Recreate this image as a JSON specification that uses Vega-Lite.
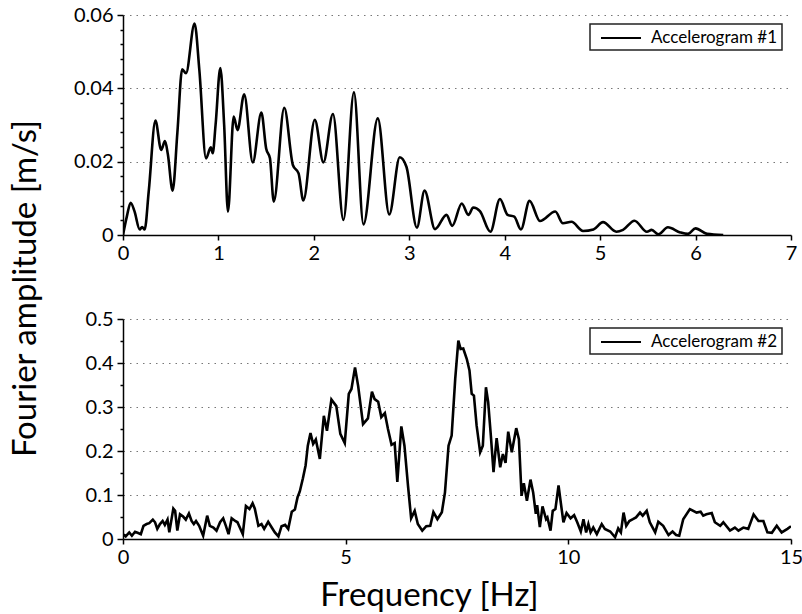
{
  "$schema": "https://vega.github.io/schema/vega-lite/v6.json",
  "background": "white",
  "padding": {"left": 10, "top": 5, "right": 0, "bottom": 5},
  "config": {
    "font": "Lato",
    "view": {"stroke": null},
    "axis": {
      "domainColor": "black", "domainWidth": 1.5, "tickColor": "black", "tickWidth": 1.5,
      "labelFontSize": 20, "labelColor": "black", "labelFont": "Lato",
      "titleFont": "Lato", "titleFontWeight": "normal", "titleColor": "black",
      "gridColor": "#777", "gridDash": [1.5, 5], "gridWidth": 1,
      "labelOverlap": false, "labelBound": false, "labelFlush": false
    },
    "legend": {
      "strokeColor": "#222", "strokeWidth": 1.5, "fillColor": "white", "padding": 4,
      "labelFontSize": 17, "labelFont": "Lato", "labelColor": "black",
      "symbolType": "M-0.333,0H4.111", "symbolSize": 324, "symbolStrokeWidth": 2, "symbolStrokeColor": "black",
      "labelOffset": 37, "cornerRadius": 0
    }
  },
  "title": {"text": "Fourier amplitude [m/s]", "orient": "left", "anchor": "middle", "fontSize": 33, "fontWeight": "normal", "font": "Lato", "offset": 30, "dx": 20, "color": "black"},
  "spacing": 84,
  "bounds": "flush",
  "datasets": {
    "acc1": [
      {"f":0,"a":0},{"f":0.04,"a":0.005},{"f":0.08,"a":0.0088},{"f":0.12,"a":0.0065},{"f":0.175,"a":0.0015},{"f":0.2,"a":0.0022},{"f":0.227,"a":0.0015},{"f":0.27,"a":0.012},{"f":0.34,"a":0.0312},{"f":0.4,"a":0.0232},{"f":0.44,"a":0.0256},{"f":0.47,"a":0.022},{"f":0.52,"a":0.0121},{"f":0.57,"a":0.028},{"f":0.62,"a":0.0452},{"f":0.66,"a":0.0441},{"f":0.75,"a":0.0577},{"f":0.8,"a":0.045},{"f":0.87,"a":0.0209},{"f":0.92,"a":0.0239},{"f":0.94,"a":0.0223},{"f":0.97,"a":0.03},{"f":1.02,"a":0.0455},{"f":1.06,"a":0.03},{"f":1.1,"a":0.0064},{"f":1.16,"a":0.0323},{"f":1.2,"a":0.0286},{"f":1.27,"a":0.0384},{"f":1.36,"a":0.0198},{"f":1.45,"a":0.0334},{"f":1.5,"a":0.0236},{"f":1.54,"a":0.0209},{"f":1.58,"a":0.0091},{"f":1.69,"a":0.0347},{"f":1.78,"a":0.0191},{"f":1.84,"a":0.0168},{"f":1.89,"a":0.0094},{"f":2.01,"a":0.0314},{"f":2.1,"a":0.0198},{"f":2.2,"a":0.033},{"f":2.31,"a":0.0041},{"f":2.42,"a":0.0389},{"f":2.52,"a":0.0029},{"f":2.67,"a":0.0318},{"f":2.79,"a":0.0056},{"f":2.9,"a":0.0212},{"f":2.97,"a":0.0186},{"f":3.08,"a":0.002},{"f":3.16,"a":0.0121},{"f":3.27,"a":0.0016},{"f":3.39,"a":0.0055},{"f":3.45,"a":0.0025},{"f":3.55,"a":0.0086},{"f":3.62,"a":0.0055},{"f":3.67,"a":0.0075},{"f":3.74,"a":0.0065},{"f":3.85,"a":0.0009},{"f":3.95,"a":0.0098},{"f":4.03,"a":0.0055},{"f":4.1,"a":0.005},{"f":4.17,"a":0.0015},{"f":4.26,"a":0.0093},{"f":4.37,"a":0.0038},{"f":4.53,"a":0.0064},{"f":4.61,"a":0.0032},{"f":4.7,"a":0.0036},{"f":4.82,"a":0.0011},{"f":4.93,"a":0.0015},{"f":5.03,"a":0.0035},{"f":5.17,"a":0.0009},{"f":5.24,"a":0.0014},{"f":5.36,"a":0.0039},{"f":5.49,"a":0.0009},{"f":5.54,"a":0.0014},{"f":5.61,"a":0.0002},{"f":5.71,"a":0.0021},{"f":5.84,"a":0.0007},{"f":5.92,"a":0.0003},{"f":6.0,"a":0.0018},{"f":6.12,"a":0.0003},{"f":6.29,"a":0}
    ],
    "acc2": [
      {"f":0,"a":0.011},{"f":0.06,"a":0.006},{"f":0.14,"a":0.015},{"f":0.2,"a":0.0075},{"f":0.27,"a":0.0165},{"f":0.34,"a":0.0135},{"f":0.4,"a":0.011},{"f":0.46,"a":0.03},{"f":0.53,"a":0.034},{"f":0.59,"a":0.036},{"f":0.67,"a":0.044},{"f":0.72,"a":0.038},{"f":0.77,"a":0.023},{"f":0.83,"a":0.034},{"f":0.89,"a":0.041},{"f":0.94,"a":0.032},{"f":1.0,"a":0.044},{"f":1.04,"a":0.015},{"f":1.13,"a":0.069},{"f":1.17,"a":0.064},{"f":1.22,"a":0.019},{"f":1.28,"a":0.056},{"f":1.35,"a":0.051},{"f":1.41,"a":0.044},{"f":1.48,"a":0.058},{"f":1.54,"a":0.041},{"f":1.59,"a":0.034},{"f":1.64,"a":0.041},{"f":1.71,"a":0.03},{"f":1.8,"a":0.0075},{"f":1.89,"a":0.053},{"f":1.95,"a":0.03},{"f":2.03,"a":0.026},{"f":2.1,"a":0.019},{"f":2.18,"a":0.038},{"f":2.25,"a":0.047},{"f":2.31,"a":0.03},{"f":2.37,"a":0.011},{"f":2.44,"a":0.047},{"f":2.52,"a":0.041},{"f":2.57,"a":0.038},{"f":2.69,"a":0.011},{"f":2.76,"a":0.075},{"f":2.84,"a":0.068},{"f":2.91,"a":0.081},{"f":2.96,"a":0.069},{"f":3.04,"a":0.03},{"f":3.11,"a":0.034},{"f":3.17,"a":0.023},{"f":3.26,"a":0.039},{"f":3.34,"a":0.026},{"f":3.41,"a":0.015},{"f":3.49,"a":0.006},{"f":3.56,"a":0.029},{"f":3.64,"a":0.032},{"f":3.71,"a":0.023},{"f":3.79,"a":0.062},{"f":3.86,"a":0.067},{"f":3.92,"a":0.095},{"f":3.97,"a":0.108},{"f":4.04,"a":0.138},{"f":4.1,"a":0.167},{"f":4.15,"a":0.212},{"f":4.21,"a":0.241},{"f":4.27,"a":0.216},{"f":4.33,"a":0.226},{"f":4.42,"a":0.182},{"f":4.51,"a":0.28},{"f":4.58,"a":0.246},{"f":4.68,"a":0.317},{"f":4.79,"a":0.302},{"f":4.88,"a":0.239},{"f":4.98,"a":0.218},{"f":5.07,"a":0.33},{"f":5.13,"a":0.341},{"f":5.21,"a":0.39},{"f":5.28,"a":0.348},{"f":5.39,"a":0.261},{"f":5.5,"a":0.274},{"f":5.59,"a":0.335},{"f":5.65,"a":0.318},{"f":5.73,"a":0.312},{"f":5.8,"a":0.277},{"f":5.88,"a":0.286},{"f":5.95,"a":0.25},{"f":6.03,"a":0.214},{"f":6.1,"a":0.218},{"f":6.16,"a":0.13},{"f":6.25,"a":0.256},{"f":6.32,"a":0.212},{"f":6.4,"a":0.121},{"f":6.47,"a":0.047},{"f":6.55,"a":0.064},{"f":6.62,"a":0.034},{"f":6.72,"a":0.019},{"f":6.81,"a":0.029},{"f":6.9,"a":0.03},{"f":6.97,"a":0.061},{"f":7.06,"a":0.045},{"f":7.16,"a":0.061},{"f":7.23,"a":0.106},{"f":7.31,"a":0.212},{"f":7.38,"a":0.235},{"f":7.46,"a":0.364},{"f":7.53,"a":0.451},{"f":7.58,"a":0.432},{"f":7.64,"a":0.433},{"f":7.72,"a":0.409},{"f":7.78,"a":0.383},{"f":7.83,"a":0.33},{"f":7.88,"a":0.326},{"f":7.94,"a":0.258},{"f":8.02,"a":0.197},{"f":8.08,"a":0.212},{"f":8.15,"a":0.345},{"f":8.2,"a":0.311},{"f":8.26,"a":0.235},{"f":8.32,"a":0.152},{"f":8.39,"a":0.229},{"f":8.47,"a":0.163},{"f":8.53,"a":0.193},{"f":8.59,"a":0.173},{"f":8.65,"a":0.244},{"f":8.73,"a":0.197},{"f":8.83,"a":0.252},{"f":8.89,"a":0.227},{"f":8.95,"a":0.098},{"f":9.0,"a":0.127},{"f":9.07,"a":0.087},{"f":9.15,"a":0.135},{"f":9.21,"a":0.106},{"f":9.27,"a":0.057},{"f":9.3,"a":0.077},{"f":9.36,"a":0.027},{"f":9.42,"a":0.074},{"f":9.5,"a":0.045},{"f":9.53,"a":0.049},{"f":9.6,"a":0.019},{"f":9.65,"a":0.064},{"f":9.71,"a":0.068},{"f":9.78,"a":0.122},{"f":9.83,"a":0.083},{"f":9.89,"a":0.038},{"f":9.96,"a":0.059},{"f":10.05,"a":0.047},{"f":10.13,"a":0.054},{"f":10.2,"a":0.038},{"f":10.28,"a":0.017},{"f":10.34,"a":0.045},{"f":10.4,"a":0.015},{"f":10.45,"a":0.034},{"f":10.5,"a":0.015},{"f":10.56,"a":0.026},{"f":10.64,"a":0.011},{"f":10.75,"a":0.034},{"f":10.82,"a":0.023},{"f":10.94,"a":0.017},{"f":11.05,"a":0.004},{"f":11.12,"a":0.024},{"f":11.18,"a":0.015},{"f":11.24,"a":0.06},{"f":11.3,"a":0.03},{"f":11.37,"a":0.041},{"f":11.45,"a":0.045},{"f":11.52,"a":0.049},{"f":11.61,"a":0.06},{"f":11.67,"a":0.053},{"f":11.76,"a":0.064},{"f":11.83,"a":0.038},{"f":11.95,"a":0.015},{"f":12.02,"a":0.039},{"f":12.13,"a":0.03},{"f":12.25,"a":0.009},{"f":12.34,"a":0.017},{"f":12.42,"a":0.009},{"f":12.49,"a":0.0075},{"f":12.58,"a":0.045},{"f":12.73,"a":0.068},{"f":12.88,"a":0.06},{"f":12.97,"a":0.062},{"f":13.03,"a":0.053},{"f":13.1,"a":0.056},{"f":13.22,"a":0.059},{"f":13.29,"a":0.038},{"f":13.41,"a":0.03},{"f":13.48,"a":0.038},{"f":13.63,"a":0.019},{"f":13.74,"a":0.026},{"f":13.82,"a":0.019},{"f":13.93,"a":0.026},{"f":14.04,"a":0.023},{"f":14.16,"a":0.056},{"f":14.27,"a":0.041},{"f":14.38,"a":0.041},{"f":14.47,"a":0.015},{"f":14.57,"a":0.014},{"f":14.68,"a":0.03},{"f":14.79,"a":0.015},{"f":14.92,"a":0.023},{"f":15.0,"a":0.029}
    ]
  },
  "vconcat": [
    {
      "width": 668, "height": 220,
      "data": {"name": "acc1"},
      "mark": {"type": "line", "interpolate": "monotone", "strokeWidth": 2.6, "clip": true},
      "encoding": {
        "x": {"field": "f", "type": "quantitative", "scale": {"domain": [0, 7], "nice": false},
          "axis": {"values": [0,1,2,3,4,5,6,7], "title": null, "grid": false, "tickSize": 5, "labelPadding": 3}},
        "y": {"field": "a", "type": "quantitative", "scale": {"domain": [0, 0.06], "nice": false},
          "axis": {"title": null, "values": [0,0.004,0.008,0.012,0.016,0.02,0.024,0.028,0.032,0.036,0.04,0.044,0.048,0.052,0.056,0.06],
            "labelExpr": "abs(datum.value/0.02 - round(datum.value/0.02)) < 0.001 ? (datum.value == 0 ? '0' : format(datum.value, '.2f')) : ''",
            "tickSize": {"condition": {"test": "abs(datum.value/0.02 - round(datum.value/0.02)) < 0.001", "value": 6}, "value": 3},
            "grid": true,
            "gridOpacity": {"condition": {"test": "abs(datum.value/0.02 - round(datum.value/0.02)) < 0.001", "value": 1}, "value": 0},
            "labelPadding": 4}},
        "color": {"datum": "Accelerogram #1", "type": "nominal", "scale": {"range": ["black"]},
          "legend": {"title": null, "orient": "top-right", "offset": 9}}
      }
    },
    {
      "width": 668, "height": 220,
      "data": {"name": "acc2"},
      "mark": {"type": "line", "interpolate": "linear", "strokeWidth": 2.6, "clip": true},
      "encoding": {
        "x": {"field": "f", "type": "quantitative", "scale": {"domain": [0, 15], "nice": false},
          "axis": {"values": [0,5,10,15], "title": "Frequency [Hz]", "titleFontSize": 33, "titlePadding": 12, "titleX": 306, "grid": false, "tickSize": 5, "labelPadding": 3}},
        "y": {"field": "a", "type": "quantitative", "scale": {"domain": [0, 0.5], "nice": false},
          "axis": {"title": null, "values": [0,0.05,0.1,0.15,0.2,0.25,0.3,0.35,0.4,0.45,0.5],
            "labelExpr": "abs(datum.value/0.1 - round(datum.value/0.1)) < 0.001 ? (datum.value == 0 ? '0' : format(datum.value, '.1f')) : ''",
            "tickSize": {"condition": {"test": "abs(datum.value/0.1 - round(datum.value/0.1)) < 0.001", "value": 6}, "value": 3},
            "grid": true,
            "gridOpacity": {"condition": {"test": "abs(datum.value/0.1 - round(datum.value/0.1)) < 0.001", "value": 1}, "value": 0},
            "labelPadding": 4}},
        "color": {"datum": "Accelerogram #2", "type": "nominal", "scale": {"range": ["black"]},
          "legend": {"title": null, "orient": "top-right", "offset": 9}}
      }
    }
  ],
  "resolve": {"scale": {"color": "independent"}, "legend": {"color": "independent"}}
}
